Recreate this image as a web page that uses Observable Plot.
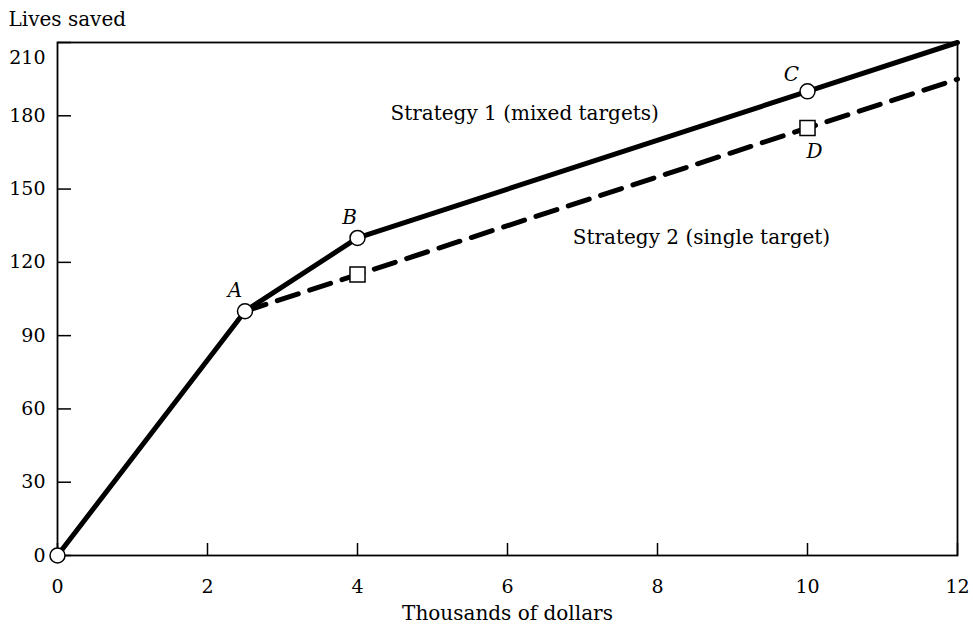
<!DOCTYPE html>
<html>
<head>
<meta charset="utf-8">
<script src="https://cdn.jsdelivr.net/npm/d3@7"></script>
<script src="https://cdn.jsdelivr.net/npm/@observablehq/plot@0.6"></script>
<style>
  html, body { margin: 0; padding: 0; background: #fff; }
</style>
</head>
<body>
<div id="chart"></div>
<script>
// Tick values
const xTicks = [0, 2, 4, 6, 8, 10, 12];
const yTicks = [0, 30, 60, 90, 120, 150, 180];
const yTopTick = [210];

// Strategy 1 (mixed targets) — solid line
const s1X = [0, 2.5, 4, 10, 12];
const s1Y = [0, 100, 130, 190, 210];

// Strategy 2 (single target) — dashed line
const s2X = [2.5, 4, 10, 12];
const s2Y = [100, 115, 175, 195];

// Circle markers (Strategy 1) and square markers (Strategy 2)
const circX = [0, 2.5, 4, 10];
const circY = [0, 100, 130, 190];
const sqX = [4, 10];
const sqY = [115, 175];

// Point letters
const letterA = {x: 2.5, y: 100, t: "A"};
const letterB = {x: 4, y: 130, t: "B"};
const letterC = {x: 10, y: 190, t: "C"};
const letterD = {x: 10, y: 175, t: "D"};

// Series labels (anchored in data units)
const seriesLabels = [
  {x: 4.44, y: 181, t: "Strategy 1 (mixed targets)"},
  {x: 6.87, y: 130, t: "Strategy 2 (single target)"}
];

const s1 = s1X.map((x, i) => ({x, y: s1Y[i]}));
const s2 = s2X.map((x, i) => ({x, y: s2Y[i]}));
const circ = circX.map((x, i) => ({x, y: circY[i]}));
const sq = sqX.map((x, i) => ({x, y: sqY[i]}));

const W = 973, H = 625, ML = 57, MR = 16, MT = 42, MB = 70;
const FS = 20, TFS = 19;

const chart = Plot.plot({
  width: W,
  height: H,
  marginLeft: ML,
  marginRight: MR,
  marginTop: MT,
  marginBottom: MB,
  x: {domain: [0, 12]},
  y: {domain: [0, 210]},
  style: {fontFamily: "'DejaVu Serif', serif", fontSize: FS + "px", color: "#000", background: "#fff"},
  marks: [
    Plot.frame({stroke: "#000", strokeWidth: 1.8}),
    Plot.tickY(yTicks.concat(yTopTick), {y: d => d, insetRight: (W - ML - MR) - 14, stroke: "#000", strokeWidth: 1.5}),
    Plot.tickX(xTicks, {x: d => d, insetTop: (H - MT - MB) - 12, stroke: "#000", strokeWidth: 1.5}),
    Plot.axisX(xTicks, {tickSize: 0, tickPadding: 24, label: null, fontSize: TFS}),
    Plot.axisY(yTicks, {tickSize: 0, tickPadding: 12, label: null, fontSize: TFS}),
    Plot.axisY(yTopTick, {tickSize: 0, tickPadding: 12, label: null, fontSize: TFS, dy: 15}),
    Plot.text(["Lives saved"], {frameAnchor: "top-left", textAnchor: "start", lineAnchor: "middle", dx: -49, dy: -23, fontSize: FS}),
    Plot.text(["Thousands of dollars"], {frameAnchor: "bottom", lineAnchor: "middle", dy: 58, fontSize: FS}),
    Plot.line(s2, {x: "x", y: "y", stroke: "#000", strokeWidth: 5, strokeDasharray: "22,12"}),
    Plot.line(s1, {x: "x", y: "y", stroke: "#000", strokeWidth: 5}),
    Plot.dot(circ, {x: "x", y: "y", r: 7.5, fill: "#fff", stroke: "#000", strokeWidth: 1.5}),
    Plot.dot(sq, {x: "x", y: "y", r: 8.5, symbol: "square", fill: "#fff", stroke: "#000", strokeWidth: 1.5}),
    Plot.text([letterA], {x: "x", y: "y", text: "t", dx: -10, dy: -21, fontStyle: "italic", fontSize: FS}),
    Plot.text([letterB], {x: "x", y: "y", text: "t", dx: -8, dy: -20, fontStyle: "italic", fontSize: FS}),
    Plot.text([letterC], {x: "x", y: "y", text: "t", dx: -16, dy: -17, fontStyle: "italic", fontSize: FS}),
    Plot.text([letterD], {x: "x", y: "y", text: "t", dx: 7, dy: 24, fontStyle: "italic", fontSize: FS}),
    Plot.text(seriesLabels, {x: "x", y: "y", text: "t", textAnchor: "start", fontSize: FS})
  ]
});

document.getElementById("chart").appendChild(chart);
</script>
</body>
</html>
